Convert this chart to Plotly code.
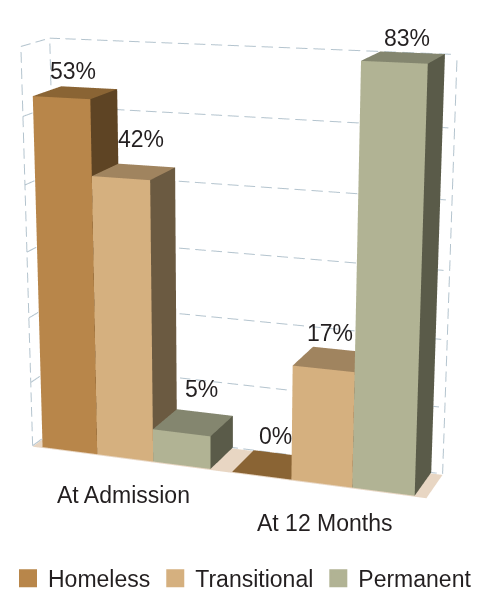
import plotly.graph_objects as go

groups = ["At Admission", "At 12 Months"]
series = ["Homeless", "Transitional", "Permanent"]
homeless = [53, 0]
transitional = [42, 17]
permanent = [5, 83]
axis_max = 60
grid_values = [0, 10, 20, 30, 40, 50, 60]

front = ["#b8864a", "#d5b07f", "#b1b394"]
top = ["#8a6434", "#a0845f", "#84866f"]
side = ["#5e4424", "#6b5a41", "#5a5b49"]
floor_col = "#e8d6c3"
grid_col = "#b4c4ce"
ink = "#231f20"
font = "Liberation Sans"

gap = 0.37
depth = 1.12
x_lo = -gap / 2
x_hi = 6 + gap + gap / 2
x_mid = (x_lo + x_hi) / 2
y_mid = depth / 2

# Pixel nudges of the value labels, per group and series (style, not data).
label_dx = [[-2, 7, 8], [3, -3, 4]]
label_dy = [[22, 33, 34], [29, 26, 19]]
group_dx = [-2, 3]
group_dy = [-37, -39]

# Plotly's perspective camera has a fixed wide lens, so the long-lens perspective
# of the chart is applied as a projective taper before an orthographic view.
taper_x, taper_y, taper_z = -0.0128, 0.03, -0.00105


def warp(x, y, z):
    s = 1 / (1 + taper_x * (x - x_mid) + taper_y * y + taper_z * (z - 30))
    return x_mid + (x - x_mid) * s, y * s, 30 + (z - 30) * s


fig = go.Figure()


def quad(p, col):
    xs, ys, zs = zip(*[warp(*q) for q in p])
    fig.add_trace(go.Mesh3d(x=xs, y=ys, z=zs, i=[0, 0], j=[1, 2], k=[2, 3], color=col,
                            flatshading=True, hoverinfo="skip", showlegend=False,
                            lighting=dict(ambient=1, diffuse=0, specular=0, roughness=1, fresnel=0)))


def dashed(p0, p1, n):
    xs, ys, zs = [], [], []
    for i in range(n):
        for f in (i / n, (i + .66) / n):
            q = warp(*[a + (b - a) * f for a, b in zip(p0, p1)])
            xs.append(q[0]); ys.append(q[1]); zs.append(q[2])
        xs.append(None); ys.append(None); zs.append(None)
    fig.add_trace(go.Scatter3d(x=xs, y=ys, z=zs, mode="lines", hoverinfo="skip", showlegend=False,
                               connectgaps=False, line=dict(color=grid_col, width=2)))


quad([(x_lo, 0, -.15), (x_hi, 0, -.15), (x_hi, depth, -.15), (x_lo, depth, -.15)], floor_col)
for g in grid_values:
    dashed((x_lo, 0, g), (x_lo, depth, g), 2)
    dashed((x_lo, depth, g), (x_hi, depth, g), 24)
dashed((x_lo, 0, 0), (x_lo, 0, axis_max), 26)
dashed((x_lo, depth, 0), (x_lo, depth, axis_max), 26)
dashed((x_hi, depth, 0), (x_hi, depth, axis_max), 26)

annotations = []
values = [homeless, transitional, permanent]
for g, gname in enumerate(groups):
    for s in range(3):
        v = values[s][g]
        h = min(v, axis_max)
        x0 = g * (3 + gap) + s
        x1 = x0 + 1
        if h > 0:
            quad([(x0, 0, 0), (x1, 0, 0), (x1, 0, h), (x0, 0, h)], front[s])
            quad([(x1, 0, 0), (x1, depth, 0), (x1, depth, h), (x1, 0, h)], side[s])
        quad([(x0, 0, h), (x1, 0, h), (x1, depth, h), (x0, depth, h)], top[s])
        ax, ay, az = warp(x0 + .5, depth / 2, h)
        annotations.append(dict(x=ax, y=ay, z=az, text=f"{v}%", showarrow=False,
                                xshift=label_dx[g][s], yshift=label_dy[g][s],
                                font=dict(size=23, color=ink, family=font)))
    ax, ay, az = warp(g * (3 + gap) + 1.5, 0, 0)
    annotations.append(dict(x=ax, y=ay, z=az, text=gname, showarrow=False,
                            xshift=group_dx[g], yshift=group_dy[g],
                            font=dict(size=23, color=ink, family=font)))

for s, name in enumerate(series):
    fig.add_trace(go.Scatter(x=[None], y=[None], mode="markers", name=name,
                             marker=dict(symbol="square", size=16, color=front[s],
                                         line=dict(color=front[s], width=2))))

hidden = dict(visible=False, showgrid=False, zeroline=False, showbackground=False, showspikes=False)
cam_center = dict(x=.061, y=.022, z=-.117)
cam_dir = (.357, -1, .27)
fig.update_layout(
    width=487, height=592, margin=dict(l=0, r=0, t=0, b=0), paper_bgcolor="white", plot_bgcolor="white",
    xaxis=dict(visible=False, domain=[0, .01]), yaxis=dict(visible=False, domain=[0, .01]),
    scene=dict(domain=dict(x=[0, 1], y=[0, 1]),
               xaxis=dict(range=[x_mid - 3.75, x_mid + 3.75], **hidden),
               yaxis=dict(range=[y_mid - .8, y_mid + .8], **hidden),
               zaxis=dict(range=[-5, 65], **hidden),
               aspectmode="manual", aspectratio=dict(x=1.678, y=.349, z=1.75),
               camera=dict(eye=dict(x=cam_center["x"] + cam_dir[0], y=cam_center["y"] + cam_dir[1],
                                    z=cam_center["z"] + cam_dir[2]),
                           center=cam_center, up=dict(x=0, y=0, z=1),
                           projection=dict(type="orthographic")),
               annotations=annotations),
    legend=dict(orientation="h", x=0.0, y=.039, xanchor="left", yanchor="top",
                font=dict(size=23, color=ink, family=font), bgcolor="rgba(0,0,0,0)"),
)
fig.write_html("out.html", config=dict(displayModeBar=False))
